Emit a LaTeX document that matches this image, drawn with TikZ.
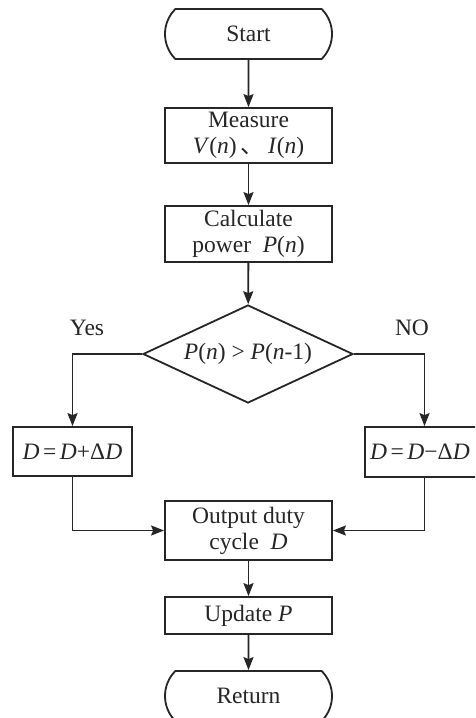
\documentclass[tikz,border=0pt]{standalone}
\usepackage{fontspec}
\setmainfont{Liberation Serif}
\newfontfamily\cjk{Noto Sans CJK SC}
\usetikzlibrary{shapes.geometric,shapes.misc,arrows.meta}
\tikzset{
  base/.style={draw=black!85, line width=1.8pt, inner sep=0pt, align=center,
    font=\fontsize{23.5}{26}\selectfont, text=black!85},
  procbox/.style={base, rectangle, minimum width=167pt},
  termbox/.style={base, rounded rectangle, rounded rectangle arc length=90,
    minimum width=167pt, minimum height=50pt},
  decbox/.style={base, diamond, aspect=2.14, minimum width=210pt, minimum height=98pt},
  conn/.style={draw=black!85, line width=1.8pt, -{Stealth[length=13pt,width=10pt,inset=2pt]}},
  lbl/.style={font=\fontsize{23.5}{26}\selectfont, text=black!85}
}
\newcommand{\eqsp}{\hspace{3.5pt}}
\begin{document}
\begin{tikzpicture}[x=1pt,y=-1pt]
\useasboundingbox (0,0) rectangle (475,718);
\fill[white] (0,0) rectangle (475,718);
\clip (0,0) rectangle (475,718);
\node[termbox] (start) at (248.5,34) {Start};
\node[procbox, minimum height=55pt] (meas) at (248.5,135.5) {Measure\\\textit{V}(\textit{n})\,{\cjk 、}\,\textit{I}(\textit{n})};
\node[procbox, minimum height=56pt] (calc) at (248.5,234) {Calculate\\power\ \ \textit{P}(\textit{n})};
\node[decbox] (dec) at (248,354) {\textit{P}(\textit{n}) {>} \textit{P}(\textit{n}-1)};
\node[lbl] (yes) at (87,328) {Yes};
\node[lbl] (no) at (412,328) {NO};
\node[procbox, minimum width=119pt, minimum height=49pt] (inc) at (72.5,451.5) {\textit{D}\eqsp=\eqsp\textit{D}+Δ\textit{D}};
\node[procbox, minimum width=119pt, minimum height=50pt] (decr) at (424.5,452) {\textit{D}\eqsp=\eqsp\textit{D}−Δ\textit{D}\hspace{9pt}};
\node[procbox, minimum height=59pt] (out) at (248.5,530.5) {Output duty\\cycle\ \ \textit{D}};
\node[procbox, minimum height=37pt] (upd) at (248.5,615.5) {Update \textit{P}};
\node[termbox] (ret) at (248.5,696) {Return};
\draw[conn] (start) -- (meas);
\draw[conn] (meas) -- (calc);
\draw[conn] (calc) -- (dec);
\draw[conn] (dec.west) -| (inc.north);
\draw[conn] (dec.east) -| (decr.north);
\draw[conn] (inc.south) |- (out.west);
\draw[conn] (decr.south) |- (out.east);
\draw[conn] (out) -- (upd);
\draw[conn] (upd) -- (ret);
\end{tikzpicture}
\end{document}
